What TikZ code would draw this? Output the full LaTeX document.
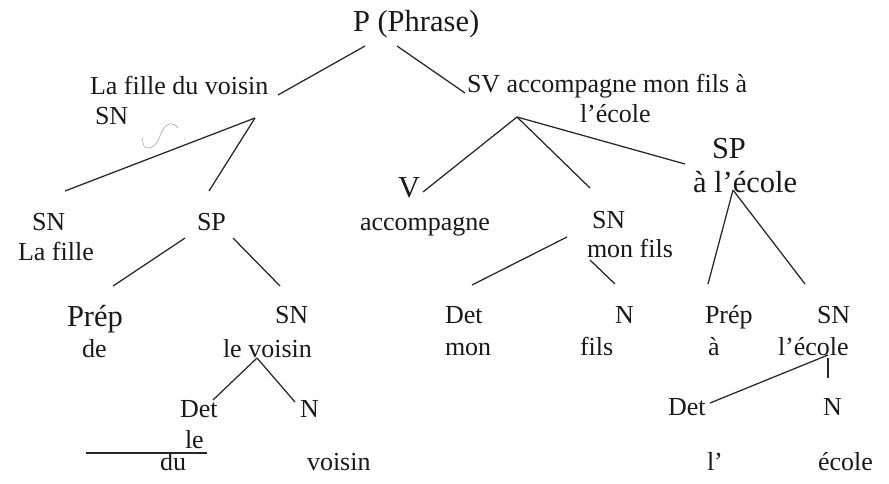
\documentclass[tikz,border=0pt]{standalone}
\usepackage{fontspec}
\setmainfont{Liberation Serif}
\tikzset{
  lbl/.style={anchor=base west, inner sep=0pt, outer sep=0pt, text=black!90, font=\fontsize{26}{30}\selectfont},
  big/.style={lbl, font=\fontsize{30.5}{36}\selectfont},
  edge/.style={draw=black!85, line width=1.25pt},
}
\begin{document}
\begin{tikzpicture}[x=1pt,y=-1pt]
\useasboundingbox (0,0) rectangle (889,484);
% labels
\node[big] (P) at (353,32) {P (Phrase)};
\node[lbl] (sntxt) at (90,95) {La fille du voisin};
\node[lbl] (sn1) at (95,125) {SN};
\node[lbl] (sv) at (467,93) {SV accompagne mon fils à};
\node[lbl] (svb) at (580,123) {l’école};
\node[lbl] (sn2) at (32,230) {SN};
\node[lbl] (lafille) at (18,260) {La fille};
\node[lbl] (sp1) at (197,230) {SP};
\node[big] (V) at (398,197) {V};
\node[lbl] (acc) at (360,230) {accompagne};
\node[lbl] (sn3) at (592,228) {SN};
\node[lbl] (monfils) at (587,257) {mon fils};
\node[big] (sp2) at (712,158) {SP};
\node[big] (alecole) at (693,193) {à l’école};
\node[big] (prep1) at (67,326) {Prép};
\node[lbl] (de) at (82,357) {de};
\node[lbl] (sn4) at (275,323) {SN};
\node[lbl] (levoisin) at (223,357) {le voisin};
\node[lbl] (det1) at (180,417) {Det};
\node[lbl] (n1) at (300,417) {N};
\node[lbl] (le) at (185,448) {le};
\node[lbl] (du) at (160,470) {du};
\node[lbl] (voisin) at (307,470) {voisin};
\node[lbl] (det2) at (445,323) {Det};
\node[lbl] (n2) at (615,323) {N};
\node[lbl] (mon) at (445,355) {mon};
\node[lbl] (fils) at (580,355) {fils};
\node[lbl] (prep2) at (705,323) {Prép};
\node[lbl] (sn5) at (817,323) {SN};
\node[lbl] (a) at (708,355) {à};
\node[lbl] (lecole) at (778,355) {l’école};
\node[lbl] (det3) at (668,415) {Det};
\node[lbl] (n3) at (823,415) {N};
\node[lbl] (l) at (707,470) {l’};
\node[lbl] (ecole) at (818,470) {école};
% connector end points
\coordinate (cPa) at (365,46);   \coordinate (cPb) at (397,46);
\coordinate (cSNl) at (278,95);  \coordinate (cSVl) at (465,93);
\coordinate (jSN) at (255,118);
\coordinate (eSN2) at (65,191);  \coordinate (eSP1) at (209,191);
\coordinate (jSPa) at (185,238); \coordinate (jSPb) at (233,238);
\coordinate (ePrep1) at (113,286); \coordinate (eSN4) at (280,286);
\coordinate (jSN4) at (257,358);
\coordinate (eDet1) at (213,400); \coordinate (eN1) at (295,402);
\coordinate (hA) at (86,453); \coordinate (hB) at (207,453);
\coordinate (jSV) at (517,117);
\coordinate (eV) at (423,192); \coordinate (eSN3) at (590,188); \coordinate (eSP2) at (685,164);
\coordinate (jSN3a) at (567,237); \coordinate (eDet2) at (472,285);
\coordinate (jSN3b) at (590,260); \coordinate (eN2) at (615,284);
\coordinate (jSP2) at (733,190);
\coordinate (ePrep2) at (708,284); \coordinate (eSN5) at (805,284);
\coordinate (jSN5) at (828,355); \coordinate (eDet3) at (710,403);
\coordinate (jSN5b) at (828,358); \coordinate (eN3) at (828,378);
% connectors
\draw[edge] (cPa) -- (cSNl);
\draw[edge] (cPb) -- (cSVl);
\draw[edge] (jSN) -- (eSN2);
\draw[edge] (jSN) -- (eSP1);
\draw[edge] (jSPa) -- (ePrep1);
\draw[edge] (jSPb) -- (eSN4);
\draw[edge] (jSN4) -- (eDet1);
\draw[edge] (jSN4) -- (eN1);
\draw[edge] (hA) -- (hB);
\draw[edge] (jSV) -- (eV);
\draw[edge] (jSV) -- (eSN3);
\draw[edge] (jSV) -- (eSP2);
\draw[edge] (jSN3a) -- (eDet2);
\draw[edge] (jSN3b) -- (eN2);
\draw[edge] (jSP2) -- (ePrep2);
\draw[edge] (jSP2) -- (eSN5);
\draw[edge] (jSN5) -- (eDet3);
\draw[edge] (jSN5b) -- (eN3);
% stray pen mark
\draw[black!35, line width=0.6pt] (143,137) .. controls (140,152) and (155,152) .. (160,136) .. controls (165,122) and (173,121) .. (178,128);
\end{tikzpicture}
\end{document}
